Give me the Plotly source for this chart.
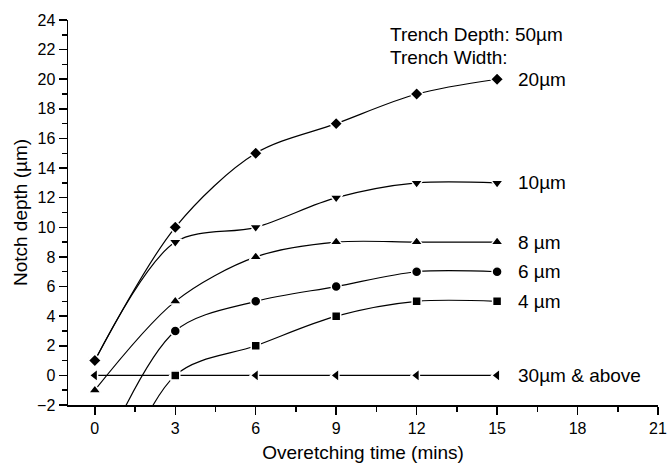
import plotly.graph_objects as go

time_min = [0, 3, 6, 9, 12, 15]
w20 = [1, 10, 15, 17, 19, 20]
w10 = [1, 9, 10, 12, 13, 13]
w8 = [-1, 5, 8, 9, 9, 9]
w6 = [-6.5, 3, 5, 6, 7, 7]
w4 = [-11, 0, 2, 4, 5, 5]
w30 = [0, 0, 0, 0, 0, 0]

series = [
    ("20µm", w20, "diamond", 10),
    ("10µm", w10, "triangle-down", 11),
    ("8 µm", w8, "triangle-up", 11),
    ("6 µm", w6, "circle", 10),
    ("4 µm", w4, "square", 9),
    ("30µm & above", w30, "triangle-left", 11),
]

FONT = "Liberation Sans, Arial, sans-serif"
fig = go.Figure()
for name, ys, sym, sz in reversed(series):
    fig.add_trace(go.Scatter(
        x=time_min, y=ys, mode="lines+markers", name=name,
        line=dict(color="black", width=1.2, shape="spline", smoothing=0.9),
        marker=dict(symbol=sym, size=sz, color="black", line=dict(color="white", width=1.5)),
        showlegend=False,
    ))

# text labels
label_x = 15.7
for name, ys, sym, sz in series:
    fig.add_annotation(x=label_x, y=ys[-1], text=name, xanchor="left", yanchor="middle",
                       showarrow=False, font=dict(family=FONT, size=19, color="black"))
fig.add_annotation(x=10.95, y=23.05, text="Trench Depth: 50µm", xanchor="left", yanchor="middle",
                   showarrow=False, font=dict(family=FONT, size=19, color="black"))
fig.add_annotation(x=10.95, y=21.5, text="Trench Width:", xanchor="left", yanchor="middle",
                   showarrow=False, font=dict(family=FONT, size=19, color="black"))

axis_common = dict(
    showgrid=False, zeroline=False, showline=True, linecolor="black", linewidth=1.5,
    ticks="outside", ticklen=8, tickwidth=1.5, tickcolor="black",
    tickfont=dict(family=FONT, size=16, color="black"),
    mirror=False, ticklabeloverflow="allow",
)
fig.update_xaxes(range=[-1, 21], tickmode="linear", tick0=0, dtick=3,
                 minor=dict(ticks="outside", ticklen=5, dtick=1.5, tick0=0, tickwidth=1.5, tickcolor="black"),
                 title=dict(text="Overetching time (mins)", font=dict(family=FONT, size=19, color="black"), standoff=10),
                 **axis_common)
fig.update_yaxes(range=[-2, 24], tickmode="linear", tick0=0, dtick=2,
                 minor=dict(ticks="outside", ticklen=5, dtick=1, tick0=0, tickwidth=1.5, tickcolor="black"),
                 title=dict(text="Notch depth (µm)", font=dict(family=FONT, size=19, color="black"), standoff=4),
                 **axis_common)
fig.update_layout(
    width=668, height=465,
    margin=dict(l=68, r=10, t=20, b=60, autoexpand=False),
    plot_bgcolor="white", paper_bgcolor="white",
)
# remove the default page margin so the figure sits at the window's top-left corner
fig.write_html("out.html", config={"displayModeBar": False, "staticPlot": True},
               post_script="document.body.style.margin='0';document.body.style.overflow='hidden';")
